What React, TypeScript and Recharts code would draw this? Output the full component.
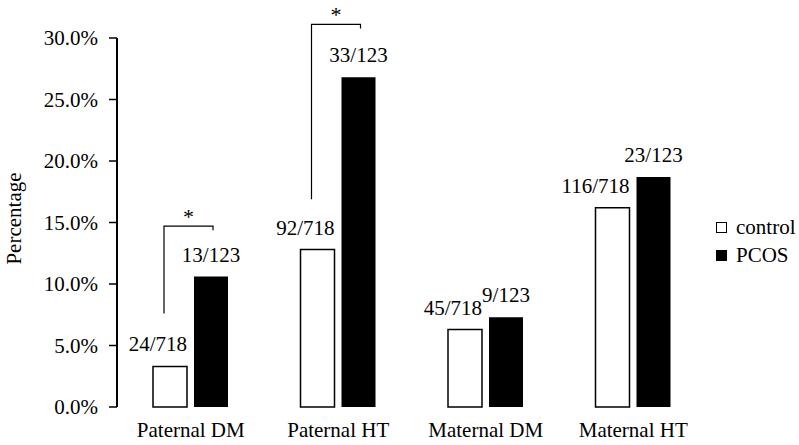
import React from 'react';
import { BarChart, Bar, XAxis, YAxis, Legend, LabelList } from 'recharts';

const categories = ['Paternal DM', 'Paternal HT', 'Maternal DM', 'Maternal HT'];
const seriesNames = ['control', 'PCOS'];
const controlPct = [3.3, 12.8, 6.3, 16.2];
const pcosPct = [10.6, 26.8, 7.3, 18.7];
const controlLabels = ['24/718', '92/718', '45/718', '116/718'];
const pcosLabels = ['13/123', '33/123', '9/123', '23/123'];
const yTicks = [0, 5, 10, 15, 20, 25, 30];
const boundaryTicks = [0, 1, 2, 3, 4];
const sigCategories = ['Paternal DM', 'Paternal HT'];
const sigLow = [7.6, 16.9];
const sigHigh = [14.7, 31.1];

const data = categories.map((c, i) => ({
  category: c,
  control: controlPct[i],
  pcos: pcosPct[i],
  controlLabel: controlLabels[i],
  pcosLabel: pcosLabels[i],
}));

const FONT = "'Liberation Serif', 'Times New Roman', serif";
const BAR_SIZE = 34;
const BAR_GAP = 7;

const ControlLabel = (props: any) => {
  const vb = props.viewBox ?? props;
  const x = Number(vb.x);
  const y = Number(vb.y);
  const width = Number(vb.width);
  const height = Number(vb.height);
  const index = props.index;
  const value = controlPct[index];
  const baseY = y + height;
  const ppu = height / value;
  const si = sigCategories.indexOf(categories[index]);
  let bracket: any = null;
  if (si >= 0) {
    const lx = x + 11;
    const rx = x + width + BAR_GAP + 19;
    const yLow = baseY - sigLow[si] * ppu;
    const yHigh = baseY - sigHigh[si] * ppu;
    bracket = (
      <g>
        <path d={`M${lx},${yLow}V${yHigh}H${rx}v4`} fill="none" stroke="#000" strokeWidth={1.2} />
        <text x={(lx + rx) / 2} y={yHigh - 2} textAnchor="middle" fontSize={22} fill="#000" fontFamily={FONT}>*</text>
      </g>
    );
  }
  return (
    <g>
      <text x={x + width} y={y - 15} textAnchor="end" fontSize={21} fill="#000" fontFamily={FONT}>
        {controlLabels[index]}
      </text>
      {bracket}
    </g>
  );
};

const renderLegend = (props: any) => {
  const payload = [...(props.payload || [])].sort(
    (a: any, b: any) => seriesNames.indexOf(a.value) - seriesNames.indexOf(b.value)
  );
  return (
    <div style={{ fontFamily: FONT }}>
      {payload.map((p: any, i: number) => (
        <div key={i} style={{ display: 'flex', alignItems: 'center', height: 28 }}>
          <span
            style={{
              display: 'inline-block',
              width: 11,
              height: 11,
              boxSizing: 'border-box',
              border: '1.5px solid #000',
              background: p.color,
            }}
          />
          <span style={{ marginLeft: 9, fontSize: 21, color: '#000' }}>{p.value}</span>
        </div>
      ))}
    </div>
  );
};

export default function App() {
  return (
    <div style={{ position: 'absolute', left: 0, top: 0, fontFamily: FONT }}>
      <BarChart
        width={799}
        height={445}
        data={data}
        margin={{ top: 38, right: 92, bottom: 0, left: 0 }}
        barSize={BAR_SIZE}
        barGap={BAR_GAP}
      >
        <XAxis
          xAxisId="ticks"
          type="number"
          domain={[0, 4]}
          allowDataOverflow
          ticks={boundaryTicks}
          tick={false}
          tickSize={-6}
          height={0}
          axisLine={{ stroke: '#000', strokeWidth: 2 }}
          tickLine={{ stroke: '#000', strokeWidth: 1.5 }}
        />
        <XAxis
          xAxisId="cat"
          dataKey="category"
          axisLine={false}
          tickLine={false}
          tickSize={0}
          tickMargin={15}
          height={38}
          interval={0}
          tick={{ fontSize: 21, fill: '#000', fontFamily: FONT }}
        />
        <YAxis
          width={117}
          domain={[0, 30]}
          ticks={yTicks}
          tickFormatter={(v: number) => v.toFixed(1) + '%'}
          axisLine={{ stroke: '#000', strokeWidth: 2 }}
          tickLine={{ stroke: '#000', strokeWidth: 1.5 }}
          tickSize={8}
          tickMargin={11}
          tick={{ fontSize: 21, fill: '#000', fontFamily: FONT }}
          label={{
            value: 'Percentage',
            angle: -90,
            position: 'center',
            dx: -45,
            dy: -4,
            style: { fontSize: 21, fill: '#000', fontFamily: FONT },
          }}
        />
        <Legend
          layout="horizontal"
          align="center"
          verticalAlign="middle"
          content={renderLegend}
          wrapperStyle={{ position: 'absolute', left: 716, top: 213, width: 83 }}
        />
        <Bar
          xAxisId="cat"
          dataKey="control"
          name="control"
          fill="#fff"
          stroke="#000"
          strokeWidth={1.5}
          isAnimationActive={false}
        >
          <LabelList dataKey="controlLabel" content={ControlLabel} />
        </Bar>
        <Bar xAxisId="cat" dataKey="pcos" name="PCOS" fill="#000" isAnimationActive={false}>
          <LabelList
            dataKey="pcosLabel"
            position="top"
            offset={15}
            style={{ fontSize: 21, fill: '#000', fontFamily: FONT }}
          />
        </Bar>
      </BarChart>
    </div>
  );
}
